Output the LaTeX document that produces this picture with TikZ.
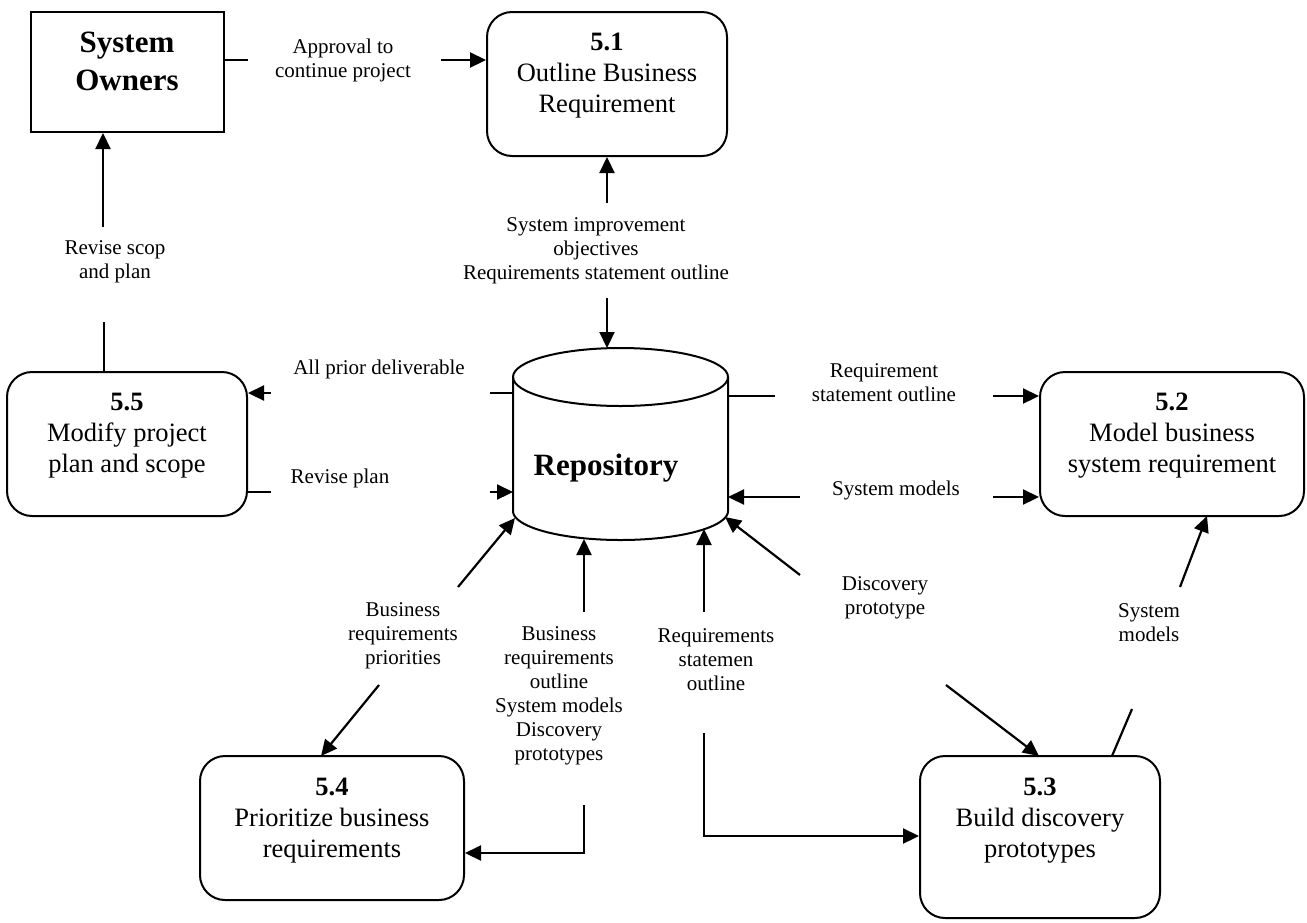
\documentclass[tikz,border=0pt]{standalone}
\usepackage{fontspec}
\setmainfont{Liberation Serif}
\usetikzlibrary{arrows.meta,calc}
\begin{document}
\begin{tikzpicture}[x=1pt,y=-1pt,
  proc/.style={draw, line width=2pt, rounded corners=25pt, inner sep=0pt},
  ext/.style={draw, line width=2pt, inner sep=0pt},
  lbl/.style={font=\fontsize{21}{24}\selectfont, align=center, inner sep=0pt},
  btxt/.style={font=\fontsize{26.5}{31}\selectfont, align=center, inner sep=0pt},
  ttxt/.style={font=\fontsize{31}{38}\selectfont\bfseries, align=center, inner sep=0pt},
  flow/.style={line width=2.2pt},
  arr/.style={line width=2.2pt, -{Triangle[length=16pt,width=15pt]}}]
\useasboundingbox (0,0) rectangle (1307,922);

% boxes
\node[ext, minimum width=193pt, minimum height=120pt] (so) at (127.5,72) {};
\node[ttxt] (sot) at (127,61) {System\\Owners};

\node[proc, minimum width=240pt, minimum height=144pt] (p51) at (607,84) {};
\node[btxt] (p51t) at (607,76) {\textbf{5.1}\\Outline Business\\Requirement};

\node[proc, minimum width=240pt, minimum height=144pt] (p55) at (127,444) {};
\node[btxt] (p55t) at (127,436) {\textbf{5.5}\\Modify project\\plan and scope};

\node[proc, minimum width=264pt, minimum height=144pt] (p52) at (1172,444) {};
\node[btxt] (p52t) at (1172,436) {\textbf{5.2}\\Model business\\system requirement};

\node[proc, minimum width=264pt, minimum height=144pt] (p54) at (332,828) {};
\node[btxt] (p54t) at (332,821) {\textbf{5.4}\\Prioritize business\\requirements};

\node[proc, minimum width=240pt, minimum height=162pt] (p53) at (1040,837) {};
\node[btxt] (p53t) at (1040,821) {\textbf{5.3}\\Build discovery\\prototypes};

% repository cylinder
\draw[line width=2pt] (513,377) -- (513,511)
  plot[domain=180:360, samples=80] ({620.5+107.5*cos(\x)}, {511-29*sin(\x)})
  -- (728,377);
\draw[line width=2pt] (620.5,377) ellipse [x radius=107.5pt, y radius=29pt];
\node[ttxt] (repo) at (606,468) {Repository};

% repository boundary points
\coordinate (rtop) at (607,348);
\coordinate (rl1) at (513,393);
\coordinate (rl2) at (513,492);
\coordinate (rr1) at (728,396);
\coordinate (rr2) at (728,497);
\coordinate (rbl) at (515,518);
\coordinate (rb1) at (584,539);
\coordinate (rb2) at (704,529);
\coordinate (rbr) at (725,517);

% labels
\node[lbl] (l1) at (343,60) {Approval to\\continue project};
\node[lbl] (l2) at (115,262) {Revise scop\\and plan};
\node[lbl] (l3) at (596,251) {System improvement\\objectives\\Requirements statement outline};
\node[lbl] (l4) at (379,369) {All prior deliverable};
\node[lbl] (l5) at (340,478) {Revise plan};
\node[lbl] (l6) at (884,383) {Requirement\\statement outline};
\node[lbl] (l7) at (896,490) {System models};
\node[lbl] (l8) at (885,598) {Discovery\\prototype};
\node[lbl] (l9) at (1149,623) {System\\models};
\node[lbl] (l10) at (716,660) {Requirements\\statemen\\outline};
\node[lbl] (l11) at (559,696) {Business\\requirements\\outline\\System models\\Discovery\\prototypes};
\node[lbl] (l12) at (403,636) {Business\\requirements\\priorities};

% connectors
\coordinate (a1) at (248,60);
\draw[flow] (so.east |- a1) -- (a1);
\coordinate (a2) at (441,60);
\draw[arr] (a2) -- (a2 -| p51.west);

\coordinate (b1) at (103,227);
\draw[arr] (b1) -- (b1 |- so.south);
\coordinate (b2) at (104,322);
\draw[flow] (b2) -- (b2 |- p55.north);

\coordinate (c1) at (607,203);
\draw[arr] (c1) -- (c1 |- p51.south);
\coordinate (c2) at (607,298);
\draw[arr] (c2) -- (rtop);

\coordinate (d1) at (490,393);
\draw[flow] (rl1) -- (d1);
\coordinate (d2) at (271,393);
\draw[arr] (d2) -- (d2 -| p55.east);

\coordinate (e1) at (271,492);
\draw[flow] (e1 -| p55.east) -- (e1);
\coordinate (e2) at (490,492);
\draw[arr] (e2) -- (rl2);

\coordinate (f1) at (775,396);
\draw[flow] (rr1) -- (f1);
\coordinate (f2) at (993,396);
\draw[arr] (f2) -- (f2 -| p52.west);

\coordinate (g1) at (800,497);
\draw[arr] (g1) -- (rr2);
\coordinate (g2) at (993,497);
\draw[arr] (g2) -- (g2 -| p52.west);

\coordinate (h1) at (800,575);
\draw[arr] (h1) -- (rbr);
\coordinate (h2) at (946,685);
\coordinate (h3) at (1039,756);
\draw[arr] (h2) -- (h3);

\coordinate (i1) at (1180,587);
\coordinate (i2) at (1207,516);
\draw[arr] (i1) -- (i2);
\coordinate (i3) at (1132,709);
\coordinate (i4) at (1112,756);
\draw[flow] (i3) -- (i4);

\coordinate (j1) at (704,612);
\draw[arr] (j1) -- (rb2);
\coordinate (j2) at (704,733);
\coordinate (j3) at (704,836);
\draw[arr] (j2) -- (j3) -- (j3 -| p53.west);

\coordinate (k1) at (584,612);
\draw[arr] (k1) -- (rb1);
\coordinate (k2) at (584,805);
\coordinate (k3) at (584,853);
\draw[arr] (k2) -- (k3) -- (k3 -| p54.east);

\coordinate (m1) at (458,587);
\draw[arr] (m1) -- (rbl);
\coordinate (m2) at (379,685);
\coordinate (m3) at (321,756);
\draw[arr] (m2) -- (m3);
\end{tikzpicture}
\end{document}
